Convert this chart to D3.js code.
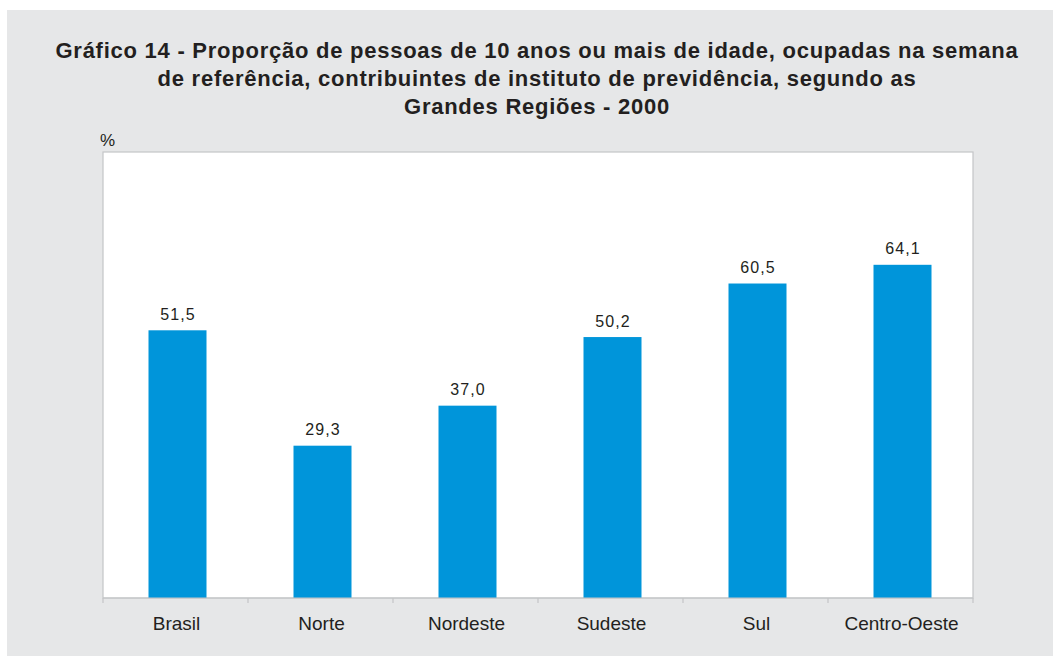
<!DOCTYPE html>
<html>
<head>
<meta charset="utf-8">
<script src="https://cdn.jsdelivr.net/npm/d3@7"></script>
<style>
  body { margin: 0; background: #fff; }
  svg { display: block; }
</style>
</head>
<body>
<svg width="1053" height="659"></svg>
<script>
const regions = ['Brasil', 'Norte', 'Nordeste', 'Sudeste', 'Sul', 'Centro-Oeste'];
const values = [51.5, 29.3, 37.0, 50.2, 60.5, 64.1];
const titleLines = [
    'Gráfico 14 - Proporção de pessoas de 10 anos ou mais de idade, ocupadas na semana',
    'de referência, contribuintes de instituto de previdência, segundo as',
    'Grandes Regiões - 2000'
];

const svg = d3.select('svg');
const font = '"Liberation Sans", Arial, Helvetica, sans-serif';

// grey panel
svg.append('rect')
    .attr('x', 7).attr('y', 10)
    .attr('width', 1046).attr('height', 646)
    .attr('fill', '#e6e7e8');

// title
svg.append('g').selectAll('text')
    .data(titleLines)
    .enter().append('text')
    .attr('x', 537)
    .attr('y', (d, i) => 58 + i * 28)
    .attr('text-anchor', 'middle')
    .attr('font-family', font)
    .attr('font-weight', 'bold')
    .attr('font-size', 22)
    .attr('letter-spacing', 0.75)
    .attr('fill', '#231f20')
    .text(d => d);

const plot = {left: 103, right: 973, top: 152, bottom: 598};

const xScale = d3.scaleBand()
    .domain(regions)
    .range([plot.left, plot.right])
    .paddingInner(0)
    .paddingOuter(0);

const yScale = d3.scaleLinear()
    .domain([0, 85.8])
    .range([plot.bottom, plot.top]);

// white plot area
svg.append('rect')
    .attr('x', plot.left).attr('y', plot.top)
    .attr('width', plot.right - plot.left).attr('height', plot.bottom - plot.top)
    .attr('fill', '#fff')
    .attr('stroke', '#c4c5c7')
    .attr('stroke-width', 1.2);

// percent label
svg.append('text')
    .attr('x', 100).attr('y', 146)
    .attr('font-family', font)
    .attr('font-size', 17)
    .attr('fill', '#231f20')
    .text('%');

// bars
const barW = xScale.bandwidth() * 0.4;
svg.append('g').selectAll('rect')
    .data(values)
    .enter().append('rect')
    .attr('x', (d, i) => xScale(regions[i]) + xScale.bandwidth() / 2 - barW / 2 + 2)
    .attr('y', d => yScale(d))
    .attr('width', barW)
    .attr('height', d => yScale(0) - yScale(d))
    .attr('fill', '#0095da');

// value labels
svg.append('g').selectAll('text')
    .data(values)
    .enter().append('text')
    .attr('x', (d, i) => xScale(regions[i]) + xScale.bandwidth() / 2 + 2.5)
    .attr('y', d => yScale(d) - 10.5)
    .attr('text-anchor', 'middle')
    .attr('font-family', font)
    .attr('font-size', 16)
    .attr('letter-spacing', 1.1)
    .attr('fill', '#231f20')
    .text(d => d.toFixed(1).replace('.', ','));

// x axis with ticks at category boundaries
const xAxis = svg.append('g')
    .attr('transform', `translate(0,${plot.bottom})`);
xAxis.append('line')
    .attr('x1', plot.left).attr('x2', plot.right)
    .attr('stroke', '#c4c5c7').attr('stroke-width', 1.2);
xAxis.selectAll('.tick')
    .data(regions.concat(['end']))
    .enter().append('line')
    .attr('x1', (d, i) => i < regions.length ? xScale(d) : plot.right)
    .attr('x2', (d, i) => i < regions.length ? xScale(d) : plot.right)
    .attr('y1', 0).attr('y2', 5)
    .attr('stroke', '#c4c5c7').attr('stroke-width', 1.2);
xAxis.selectAll('text')
    .data(regions)
    .enter().append('text')
    .attr('x', d => xScale(d) + xScale.bandwidth() / 2 + 1)
    .attr('y', 32)
    .attr('text-anchor', 'middle')
    .attr('font-family', font)
    .attr('font-size', 19)
    .attr('fill', '#231f20')
    .text(d => d);
</script>
</body>
</html>
